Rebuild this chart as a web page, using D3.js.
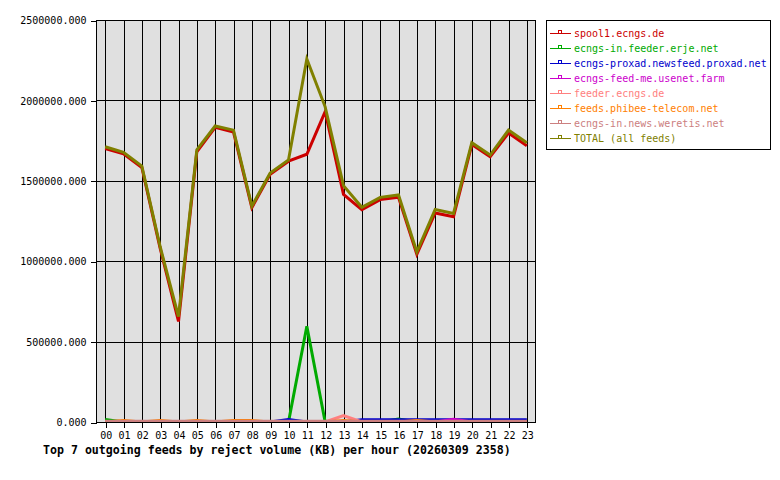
<!DOCTYPE html>
<html>
<head>
<meta charset="utf-8">
<script src="https://cdn.jsdelivr.net/npm/d3@7"></script>
<style>
  html, body { margin: 0; padding: 0; background: #ffffff; }
  svg { display: block; }
</style>
</head>
<body>
<svg id="chart" width="780" height="480"></svg>
<script>
// ---- data ----
const hours = d3.range(0, 24);
const hourLabels = ["00","01","02","03","04","05","06","07","08","09","10","11","12","13","14","15","16","17","18","19","20","21","22","23"];
const yTicks = [0, 500000, 1000000, 1500000, 2000000, 2500000];

const seriesNames = [
  "spool1.ecngs.de",
  "ecngs-in.feeder.erje.net",
  "ecngs-proxad.newsfeed.proxad.net",
  "ecngs-feed-me.usenet.farm",
  "feeder.ecngs.de",
  "feeds.phibee-telecom.net",
  "ecngs-in.news.weretis.net",
  "TOTAL (all feeds)"
];
const seriesColors = ["#cc0000", "#00aa00", "#0000cc", "#cc00cc", "#ff8080", "#ff8000", "#cc8080", "#808000"];

const spool1 = [1700000, 1668000, 1583000, 1080000, 625000, 1680000, 1833000, 1803000, 1333000, 1540000, 1622000, 1665000, 1930000, 1415000, 1320000, 1383000, 1398000, 1043000, 1300000, 1276000, 1725000, 1650000, 1797000, 1718000];
const erje = [16000, 0, 0, 0, 0, 0, 0, 0, 0, 0, 0, 595000, 0, 0, 0, 0, 18000, 0, 0, 0, 0, 0, 0, 0];
const proxad = [0, 0, 0, 0, 0, 0, 0, 0, 0, 0, 15000, 0, 0, 0, 14000, 14000, 14000, 14000, 14000, 14000, 14000, 14000, 14000, 14000];
const usenetFarm = [0, 0, 0, 0, 0, 0, 0, 0, 0, 0, 0, 0, 0, 0, 0, 0, 0, 0, 0, 17000, 0, 0, 0, 0];
const feederEcngs = [0, 0, 0, 0, 0, 0, 0, 0, 0, 0, 0, 0, 0, 40000, 0, 0, 0, 0, 0, 0, 0, 0, 0, 0];
const phibee = [0, 9000, 0, 9000, 0, 9000, 0, 9000, 9000, 0, 0, 0, 0, 9000, 0, 0, 0, 9000, 0, 0, 0, 0, 0, 0];
const weretis = [4000, 4000, 4000, 4000, 4000, 4000, 4000, 4000, 4000, 4000, 4000, 4000, 4000, 4000, 4000, 4000, 4000, 4000, 4000, 4000, 4000, 4000, 4000, 4000];
const total = [1712000, 1677000, 1592000, 1090000, 655000, 1692000, 1841000, 1815000, 1343000, 1548000, 1630000, 2257000, 1960000, 1470000, 1335000, 1397000, 1412000, 1058000, 1322000, 1297000, 1737000, 1660000, 1815000, 1737000];

const seriesValues = [spool1, erje, proxad, usenetFarm, feederEcngs, phibee, weretis, total];
const titleText = "Top 7 outgoing feeds by reject volume (KB) per hour (20260309 2358)";

// ---- layout ----
const plot = { left: 96, right: 536, top: 20, bottom: 422 };
const svg = d3.select("#chart");
const mono = "'DejaVu Sans Mono', 'Liberation Mono', monospace";

const x = d3.scaleLinear().domain([-0.5, 23.5]).range([plot.left, plot.right]);
const y = d3.scaleLinear().domain([0, 2500000]).range([plot.bottom, plot.top]);
const crisp = v => Math.round(v) + 0.5;

// background
svg.append("rect")
  .attr("x", plot.left).attr("y", plot.top)
  .attr("width", plot.right - plot.left).attr("height", plot.bottom - plot.top)
  .attr("fill", "#e0e0e0");

// grid
const grid = svg.append("g").attr("shape-rendering", "crispEdges");
grid.selectAll("line.v").data(hours).enter().append("line")
  .attr("x1", d => crisp(x(d))).attr("x2", d => crisp(x(d)))
  .attr("y1", plot.top).attr("y2", plot.bottom)
  .attr("stroke", "#000").attr("stroke-width", 1);
grid.selectAll("line.h").data(yTicks).enter().append("line")
  .attr("x1", plot.left).attr("x2", plot.right)
  .attr("y1", d => crisp(y(d))).attr("y2", d => crisp(y(d)))
  .attr("stroke", "#000").attr("stroke-width", 1);

// series
const defs = svg.append("defs");
defs.append("clipPath").attr("id", "clip").append("rect")
  .attr("x", plot.left).attr("y", plot.top)
  .attr("width", plot.right - plot.left).attr("height", plot.bottom - plot.top);

const line = d3.line().x((d, i) => x(hours[i])).y(d => y(d));
const gSeries = svg.append("g").attr("clip-path", "url(#clip)");
seriesValues.forEach((vals, i) => {
  gSeries.append("path")
    .attr("d", line(vals))
    .attr("fill", "none")
    .attr("stroke", seriesColors[i])
    .attr("stroke-width", 3)
    .attr("stroke-linejoin", "miter");
});

// frame
svg.append("rect")
  .attr("x", plot.left + 0.5).attr("y", plot.top + 0.5)
  .attr("width", plot.right - plot.left - 1).attr("height", plot.bottom - plot.top)
  .attr("fill", "none").attr("stroke", "#000").attr("stroke-width", 1)
  .attr("shape-rendering", "crispEdges");

// axes
const yAxis = d3.axisLeft(y).tickValues(yTicks).tickFormat(d => d.toFixed(3)).tickSize(6).tickPadding(4);
const gy = svg.append("g").attr("transform", `translate(${plot.left + 0.5},0.5)`).call(yAxis);
gy.select(".domain").remove();
gy.selectAll("line").attr("stroke", "#000").attr("shape-rendering", "crispEdges");
gy.selectAll("text").attr("font-family", mono).attr("font-size", 10).attr("fill", "#000");

const xAxis = d3.axisBottom(x).tickValues(hours).tickFormat((d, i) => hourLabels[i]).tickSize(5).tickPadding(4);
const gx = svg.append("g").attr("transform", `translate(0.5,${plot.bottom + 0.5})`).call(xAxis);
gx.select(".domain").remove();
gx.selectAll("line").attr("stroke", "#000").attr("shape-rendering", "crispEdges");
gx.selectAll("text").attr("font-family", mono).attr("font-size", 10).attr("fill", "#000");

// title
svg.append("text")
  .attr("x", 43).attr("y", 454)
  .attr("font-family", mono).attr("font-size", 11.6).attr("font-weight", "bold")
  .attr("fill", "#000")
  .text(titleText);

// legend
const lg = svg.append("g");
lg.append("rect")
  .attr("x", 546.5).attr("y", 20.5).attr("width", 224).attr("height", 129)
  .attr("fill", "#fff").attr("stroke", "#000").attr("stroke-width", 1)
  .attr("shape-rendering", "crispEdges");
seriesNames.forEach((name, i) => {
  const cy = 33 + i * 15;
  const row = lg.append("g");
  row.append("line")
    .attr("x1", 550).attr("x2", 571).attr("y1", cy + 0.5).attr("y2", cy + 0.5)
    .attr("stroke", seriesColors[i]).attr("stroke-width", 1).attr("shape-rendering", "crispEdges");
  row.append("rect")
    .attr("x", 558.5).attr("y", cy - 2.5).attr("width", 3).attr("height", 3)
    .attr("fill", "none").attr("stroke", seriesColors[i]).attr("stroke-width", 1)
    .attr("shape-rendering", "crispEdges");
  row.append("text")
    .attr("x", 574).attr("y", cy + 4)
    .attr("font-family", mono).attr("font-size", 10)
    .attr("fill", seriesColors[i])
    .text(name);
});
</script>
</body>
</html>
